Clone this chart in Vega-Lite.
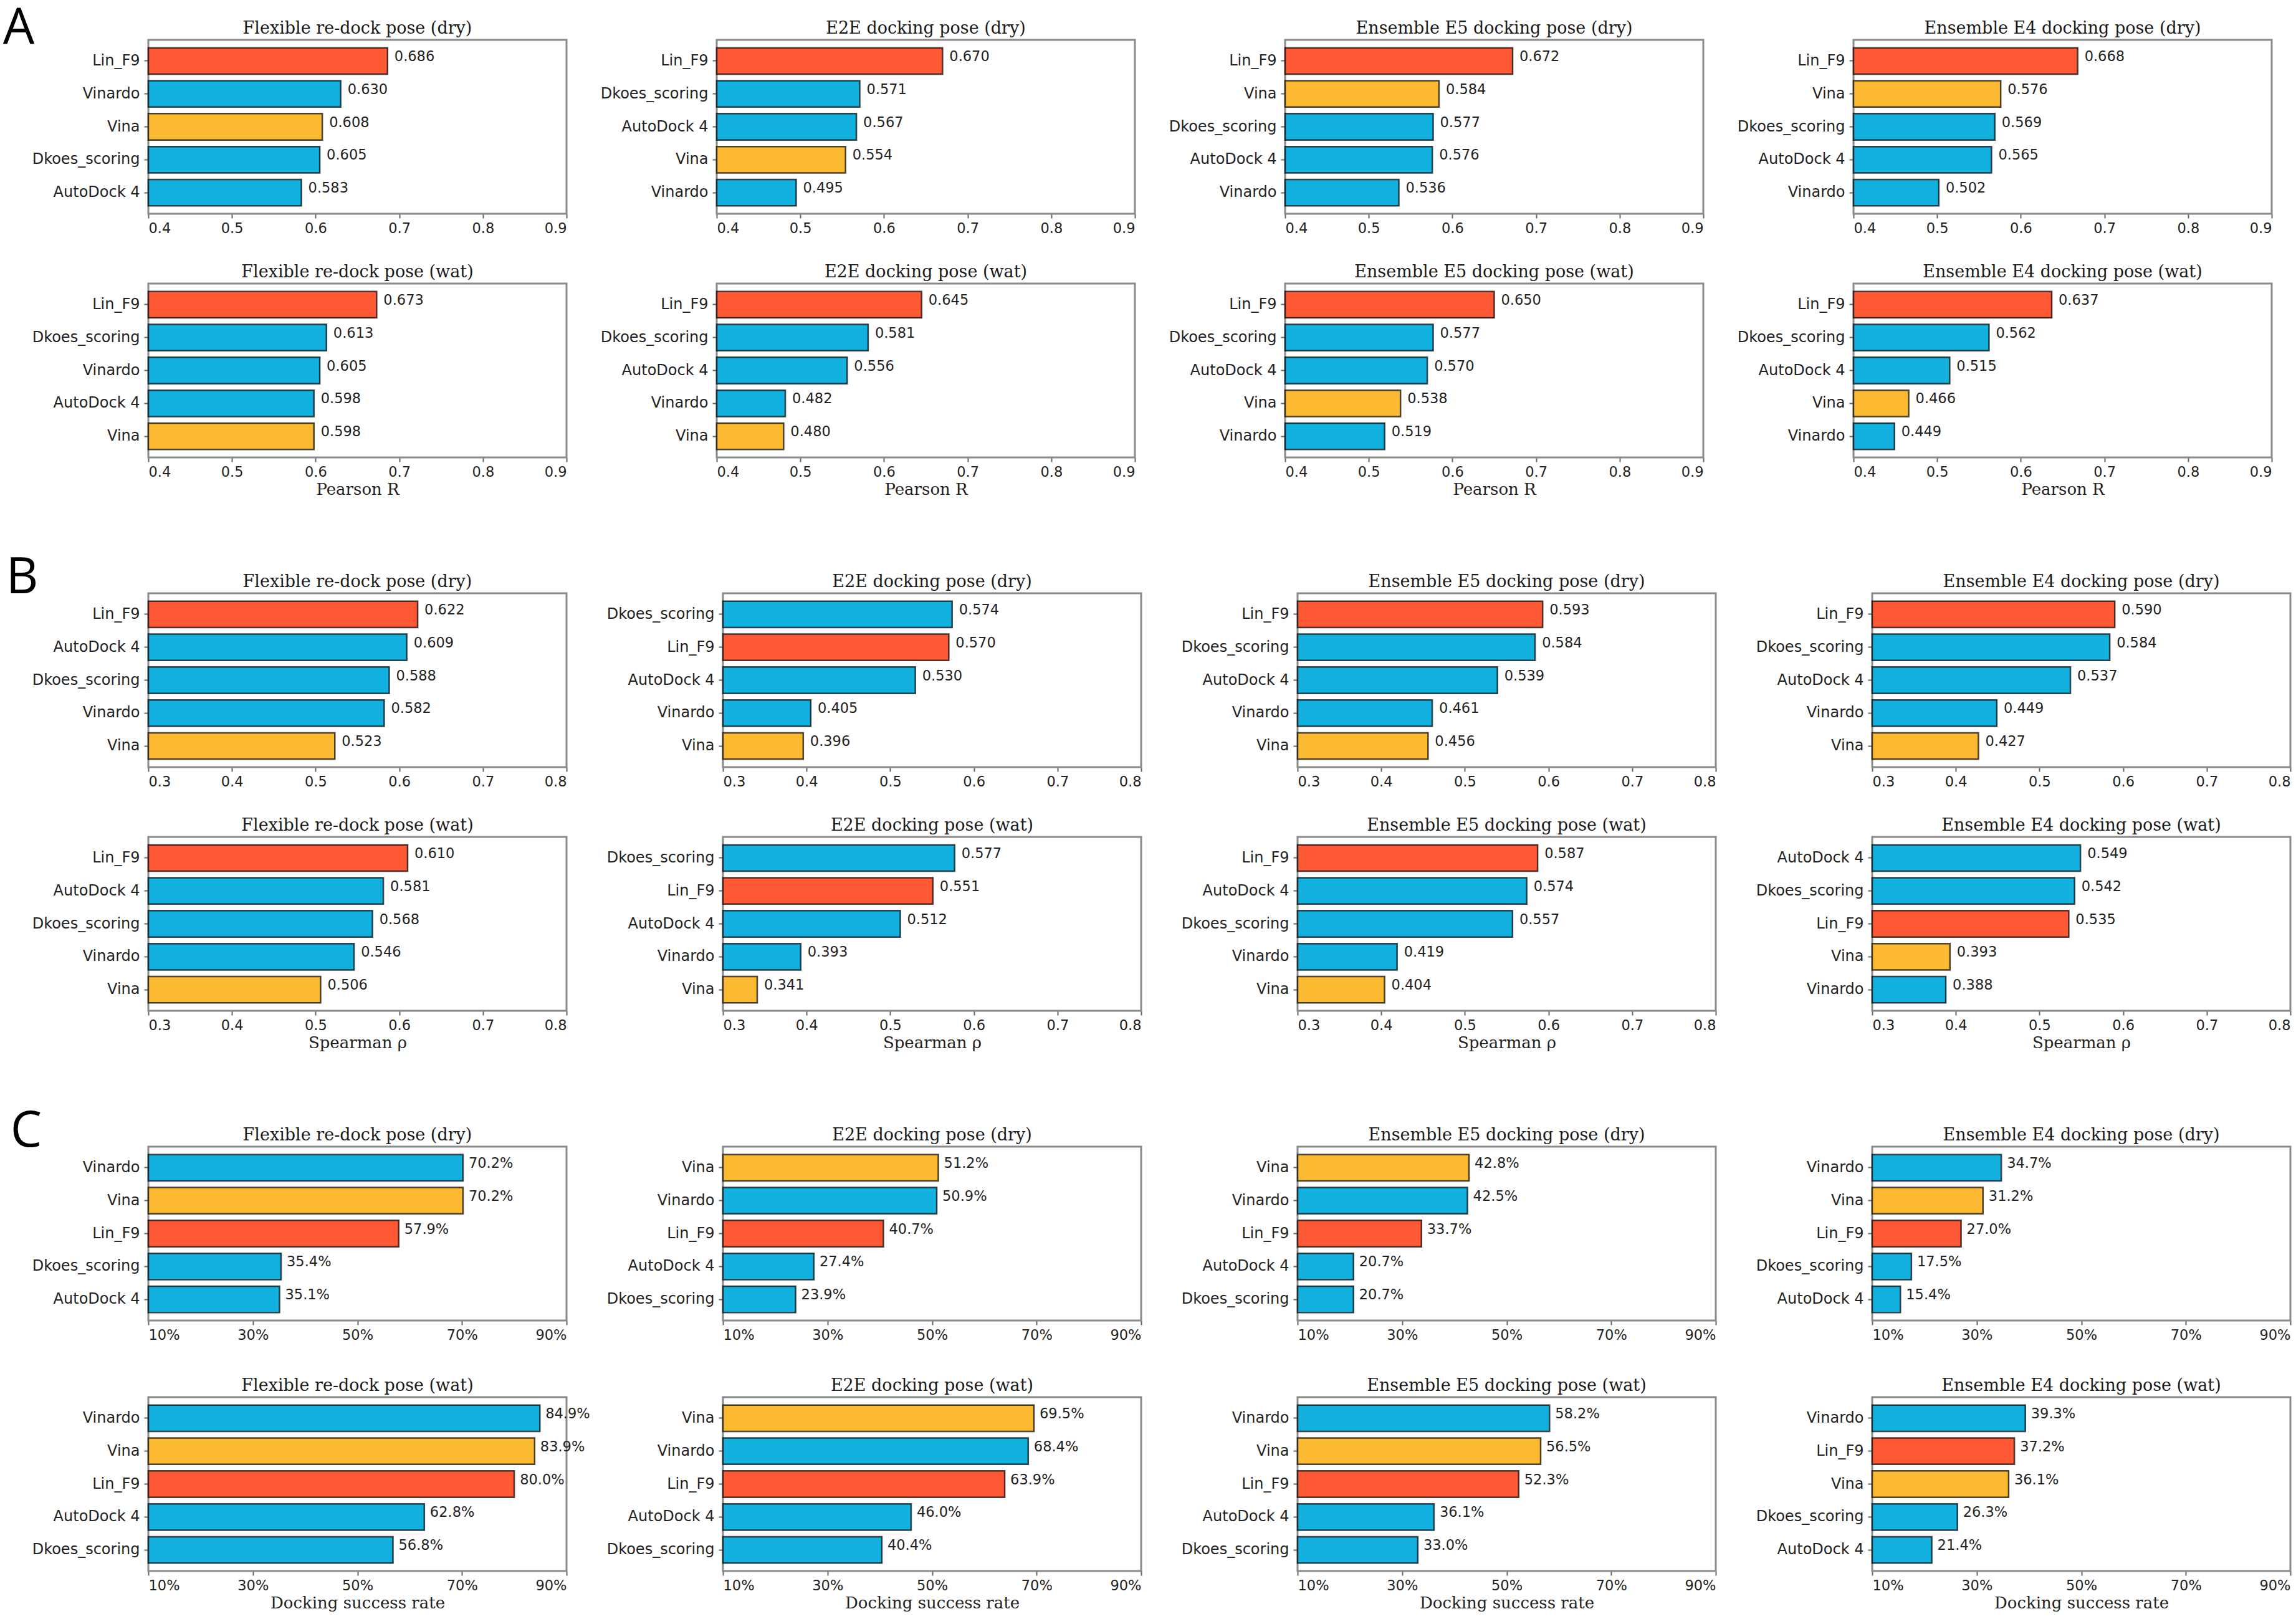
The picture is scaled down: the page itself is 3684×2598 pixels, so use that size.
{
  "$schema": "https://vega.github.io/schema/vega-lite/v6.json",
  "background": "white",
  "padding": {"left": 4, "top": 6, "right": 0, "bottom": 0},
  "spacing": 89,
  "datasets": {
    "A_dry": [
      {"panel": "Flexible re-dock pose (dry)", "method": "Lin_F9", "value": 0.686},
      {"panel": "Flexible re-dock pose (dry)", "method": "Vinardo", "value": 0.630},
      {"panel": "Flexible re-dock pose (dry)", "method": "Vina", "value": 0.608},
      {"panel": "Flexible re-dock pose (dry)", "method": "Dkoes_scoring", "value": 0.605},
      {"panel": "Flexible re-dock pose (dry)", "method": "AutoDock 4", "value": 0.583},
      {"panel": "E2E docking pose (dry)", "method": "Lin_F9", "value": 0.670},
      {"panel": "E2E docking pose (dry)", "method": "Dkoes_scoring", "value": 0.571},
      {"panel": "E2E docking pose (dry)", "method": "AutoDock 4", "value": 0.567},
      {"panel": "E2E docking pose (dry)", "method": "Vina", "value": 0.554},
      {"panel": "E2E docking pose (dry)", "method": "Vinardo", "value": 0.495},
      {"panel": "Ensemble E5 docking pose (dry)", "method": "Lin_F9", "value": 0.672},
      {"panel": "Ensemble E5 docking pose (dry)", "method": "Vina", "value": 0.584},
      {"panel": "Ensemble E5 docking pose (dry)", "method": "Dkoes_scoring", "value": 0.577},
      {"panel": "Ensemble E5 docking pose (dry)", "method": "AutoDock 4", "value": 0.576},
      {"panel": "Ensemble E5 docking pose (dry)", "method": "Vinardo", "value": 0.536},
      {"panel": "Ensemble E4 docking pose (dry)", "method": "Lin_F9", "value": 0.668},
      {"panel": "Ensemble E4 docking pose (dry)", "method": "Vina", "value": 0.576},
      {"panel": "Ensemble E4 docking pose (dry)", "method": "Dkoes_scoring", "value": 0.569},
      {"panel": "Ensemble E4 docking pose (dry)", "method": "AutoDock 4", "value": 0.565},
      {"panel": "Ensemble E4 docking pose (dry)", "method": "Vinardo", "value": 0.502}
    ],
    "A_wat": [
      {"panel": "Flexible re-dock pose (wat)", "method": "Lin_F9", "value": 0.673},
      {"panel": "Flexible re-dock pose (wat)", "method": "Dkoes_scoring", "value": 0.613},
      {"panel": "Flexible re-dock pose (wat)", "method": "Vinardo", "value": 0.605},
      {"panel": "Flexible re-dock pose (wat)", "method": "AutoDock 4", "value": 0.598},
      {"panel": "Flexible re-dock pose (wat)", "method": "Vina", "value": 0.598},
      {"panel": "E2E docking pose (wat)", "method": "Lin_F9", "value": 0.645},
      {"panel": "E2E docking pose (wat)", "method": "Dkoes_scoring", "value": 0.581},
      {"panel": "E2E docking pose (wat)", "method": "AutoDock 4", "value": 0.556},
      {"panel": "E2E docking pose (wat)", "method": "Vinardo", "value": 0.482},
      {"panel": "E2E docking pose (wat)", "method": "Vina", "value": 0.480},
      {"panel": "Ensemble E5 docking pose (wat)", "method": "Lin_F9", "value": 0.650},
      {"panel": "Ensemble E5 docking pose (wat)", "method": "Dkoes_scoring", "value": 0.577},
      {"panel": "Ensemble E5 docking pose (wat)", "method": "AutoDock 4", "value": 0.570},
      {"panel": "Ensemble E5 docking pose (wat)", "method": "Vina", "value": 0.538},
      {"panel": "Ensemble E5 docking pose (wat)", "method": "Vinardo", "value": 0.519},
      {"panel": "Ensemble E4 docking pose (wat)", "method": "Lin_F9", "value": 0.637},
      {"panel": "Ensemble E4 docking pose (wat)", "method": "Dkoes_scoring", "value": 0.562},
      {"panel": "Ensemble E4 docking pose (wat)", "method": "AutoDock 4", "value": 0.515},
      {"panel": "Ensemble E4 docking pose (wat)", "method": "Vina", "value": 0.466},
      {"panel": "Ensemble E4 docking pose (wat)", "method": "Vinardo", "value": 0.449}
    ],
    "B_dry": [
      {"panel": "Flexible re-dock pose (dry)", "method": "Lin_F9", "value": 0.622},
      {"panel": "Flexible re-dock pose (dry)", "method": "AutoDock 4", "value": 0.609},
      {"panel": "Flexible re-dock pose (dry)", "method": "Dkoes_scoring", "value": 0.588},
      {"panel": "Flexible re-dock pose (dry)", "method": "Vinardo", "value": 0.582},
      {"panel": "Flexible re-dock pose (dry)", "method": "Vina", "value": 0.523},
      {"panel": "E2E docking pose (dry)", "method": "Dkoes_scoring", "value": 0.574},
      {"panel": "E2E docking pose (dry)", "method": "Lin_F9", "value": 0.570},
      {"panel": "E2E docking pose (dry)", "method": "AutoDock 4", "value": 0.530},
      {"panel": "E2E docking pose (dry)", "method": "Vinardo", "value": 0.405},
      {"panel": "E2E docking pose (dry)", "method": "Vina", "value": 0.396},
      {"panel": "Ensemble E5 docking pose (dry)", "method": "Lin_F9", "value": 0.593},
      {"panel": "Ensemble E5 docking pose (dry)", "method": "Dkoes_scoring", "value": 0.584},
      {"panel": "Ensemble E5 docking pose (dry)", "method": "AutoDock 4", "value": 0.539},
      {"panel": "Ensemble E5 docking pose (dry)", "method": "Vinardo", "value": 0.461},
      {"panel": "Ensemble E5 docking pose (dry)", "method": "Vina", "value": 0.456},
      {"panel": "Ensemble E4 docking pose (dry)", "method": "Lin_F9", "value": 0.590},
      {"panel": "Ensemble E4 docking pose (dry)", "method": "Dkoes_scoring", "value": 0.584},
      {"panel": "Ensemble E4 docking pose (dry)", "method": "AutoDock 4", "value": 0.537},
      {"panel": "Ensemble E4 docking pose (dry)", "method": "Vinardo", "value": 0.449},
      {"panel": "Ensemble E4 docking pose (dry)", "method": "Vina", "value": 0.427}
    ],
    "B_wat": [
      {"panel": "Flexible re-dock pose (wat)", "method": "Lin_F9", "value": 0.610},
      {"panel": "Flexible re-dock pose (wat)", "method": "AutoDock 4", "value": 0.581},
      {"panel": "Flexible re-dock pose (wat)", "method": "Dkoes_scoring", "value": 0.568},
      {"panel": "Flexible re-dock pose (wat)", "method": "Vinardo", "value": 0.546},
      {"panel": "Flexible re-dock pose (wat)", "method": "Vina", "value": 0.506},
      {"panel": "E2E docking pose (wat)", "method": "Dkoes_scoring", "value": 0.577},
      {"panel": "E2E docking pose (wat)", "method": "Lin_F9", "value": 0.551},
      {"panel": "E2E docking pose (wat)", "method": "AutoDock 4", "value": 0.512},
      {"panel": "E2E docking pose (wat)", "method": "Vinardo", "value": 0.393},
      {"panel": "E2E docking pose (wat)", "method": "Vina", "value": 0.341},
      {"panel": "Ensemble E5 docking pose (wat)", "method": "Lin_F9", "value": 0.587},
      {"panel": "Ensemble E5 docking pose (wat)", "method": "AutoDock 4", "value": 0.574},
      {"panel": "Ensemble E5 docking pose (wat)", "method": "Dkoes_scoring", "value": 0.557},
      {"panel": "Ensemble E5 docking pose (wat)", "method": "Vinardo", "value": 0.419},
      {"panel": "Ensemble E5 docking pose (wat)", "method": "Vina", "value": 0.404},
      {"panel": "Ensemble E4 docking pose (wat)", "method": "AutoDock 4", "value": 0.549},
      {"panel": "Ensemble E4 docking pose (wat)", "method": "Dkoes_scoring", "value": 0.542},
      {"panel": "Ensemble E4 docking pose (wat)", "method": "Lin_F9", "value": 0.535},
      {"panel": "Ensemble E4 docking pose (wat)", "method": "Vina", "value": 0.393},
      {"panel": "Ensemble E4 docking pose (wat)", "method": "Vinardo", "value": 0.388}
    ],
    "C_dry": [
      {"panel": "Flexible re-dock pose (dry)", "method": "Vinardo", "value": 0.702},
      {"panel": "Flexible re-dock pose (dry)", "method": "Vina", "value": 0.702},
      {"panel": "Flexible re-dock pose (dry)", "method": "Lin_F9", "value": 0.579},
      {"panel": "Flexible re-dock pose (dry)", "method": "Dkoes_scoring", "value": 0.354},
      {"panel": "Flexible re-dock pose (dry)", "method": "AutoDock 4", "value": 0.351},
      {"panel": "E2E docking pose (dry)", "method": "Vina", "value": 0.512},
      {"panel": "E2E docking pose (dry)", "method": "Vinardo", "value": 0.509},
      {"panel": "E2E docking pose (dry)", "method": "Lin_F9", "value": 0.407},
      {"panel": "E2E docking pose (dry)", "method": "AutoDock 4", "value": 0.274},
      {"panel": "E2E docking pose (dry)", "method": "Dkoes_scoring", "value": 0.239},
      {"panel": "Ensemble E5 docking pose (dry)", "method": "Vina", "value": 0.428},
      {"panel": "Ensemble E5 docking pose (dry)", "method": "Vinardo", "value": 0.425},
      {"panel": "Ensemble E5 docking pose (dry)", "method": "Lin_F9", "value": 0.337},
      {"panel": "Ensemble E5 docking pose (dry)", "method": "AutoDock 4", "value": 0.207},
      {"panel": "Ensemble E5 docking pose (dry)", "method": "Dkoes_scoring", "value": 0.207},
      {"panel": "Ensemble E4 docking pose (dry)", "method": "Vinardo", "value": 0.347},
      {"panel": "Ensemble E4 docking pose (dry)", "method": "Vina", "value": 0.312},
      {"panel": "Ensemble E4 docking pose (dry)", "method": "Lin_F9", "value": 0.270},
      {"panel": "Ensemble E4 docking pose (dry)", "method": "Dkoes_scoring", "value": 0.175},
      {"panel": "Ensemble E4 docking pose (dry)", "method": "AutoDock 4", "value": 0.154}
    ],
    "C_wat": [
      {"panel": "Flexible re-dock pose (wat)", "method": "Vinardo", "value": 0.849},
      {"panel": "Flexible re-dock pose (wat)", "method": "Vina", "value": 0.839},
      {"panel": "Flexible re-dock pose (wat)", "method": "Lin_F9", "value": 0.800},
      {"panel": "Flexible re-dock pose (wat)", "method": "AutoDock 4", "value": 0.628},
      {"panel": "Flexible re-dock pose (wat)", "method": "Dkoes_scoring", "value": 0.568},
      {"panel": "E2E docking pose (wat)", "method": "Vina", "value": 0.695},
      {"panel": "E2E docking pose (wat)", "method": "Vinardo", "value": 0.684},
      {"panel": "E2E docking pose (wat)", "method": "Lin_F9", "value": 0.639},
      {"panel": "E2E docking pose (wat)", "method": "AutoDock 4", "value": 0.460},
      {"panel": "E2E docking pose (wat)", "method": "Dkoes_scoring", "value": 0.404},
      {"panel": "Ensemble E5 docking pose (wat)", "method": "Vinardo", "value": 0.582},
      {"panel": "Ensemble E5 docking pose (wat)", "method": "Vina", "value": 0.565},
      {"panel": "Ensemble E5 docking pose (wat)", "method": "Lin_F9", "value": 0.523},
      {"panel": "Ensemble E5 docking pose (wat)", "method": "AutoDock 4", "value": 0.361},
      {"panel": "Ensemble E5 docking pose (wat)", "method": "Dkoes_scoring", "value": 0.330},
      {"panel": "Ensemble E4 docking pose (wat)", "method": "Vinardo", "value": 0.393},
      {"panel": "Ensemble E4 docking pose (wat)", "method": "Lin_F9", "value": 0.372},
      {"panel": "Ensemble E4 docking pose (wat)", "method": "Vina", "value": 0.361},
      {"panel": "Ensemble E4 docking pose (wat)", "method": "Dkoes_scoring", "value": 0.263},
      {"panel": "Ensemble E4 docking pose (wat)", "method": "AutoDock 4", "value": 0.214}
    ]
  },
  "vconcat": [
    {
      "title": {"text": "A", "anchor": "start", "orient": "top", "frame": "bounds", "font": "Open Sans", "fontSize": 80, "fontWeight": "normal", "color": "#000000", "baseline": "alphabetic", "offset": 0, "dx": -45, "dy": 118},
      "spacing": 45,
      "vconcat": [
        {
          "data": {"name": "A_dry"},
          "facet": {"column": {"field": "panel", "type": "nominal", "sort": ["Flexible re-dock pose (dry)", "E2E docking pose (dry)", "Ensemble E5 docking pose (dry)", "Ensemble E4 docking pose (dry)"], "header": {"title": null}}},
          "bounds": "flush",
          "spacing": {"column": 241},
          "resolve": {"scale": {"y": "independent"}},
          "spec": {
            "width": 671, "height": 279,
            "encoding": {
              "y": {"field": "method", "type": "nominal", "sort": null, "scale": {"paddingInner": 0.2, "paddingOuter": 0.24}, "axis": {"title": null}},
              "x": {"field": "value", "type": "quantitative", "scale": {"domain": [0.4, 0.9], "zero": false, "nice": false}, "axis": {"values": [0.4, 0.5, 0.6, 0.7, 0.8, 0.9], "format": ".1f", "title": null}}
            },
            "layer": [
              {"mark": {"type": "bar", "stroke": "#000000", "strokeOpacity": 0.7, "strokeWidth": 2.5}, "encoding": {"x2": {"datum": 0.4}, "color": {"field": "method", "type": "nominal", "legend": null, "scale": {"domain": ["Lin_F9", "Vina", "Vinardo", "Dkoes_scoring", "AutoDock 4"], "range": ["#ff5a35", "#fcba33", "#12b1e0", "#12b1e0", "#12b1e0"]}}}},
              {"mark": {"type": "text", "align": "left", "baseline": "middle", "dx": 11, "dy": -7, "font": "DejaVu Sans", "fontSize": 22.5, "color": "#222222"}, "encoding": {"text": {"field": "value", "type": "quantitative", "format": ".3f"}}}
            ]
          }
        },
        {
          "data": {"name": "A_wat"},
          "facet": {"column": {"field": "panel", "type": "nominal", "sort": ["Flexible re-dock pose (wat)", "E2E docking pose (wat)", "Ensemble E5 docking pose (wat)", "Ensemble E4 docking pose (wat)"], "header": {"title": null}}},
          "bounds": "flush",
          "spacing": {"column": 241},
          "resolve": {"scale": {"y": "independent"}},
          "spec": {
            "width": 671, "height": 279,
            "encoding": {
              "y": {"field": "method", "type": "nominal", "sort": null, "scale": {"paddingInner": 0.2, "paddingOuter": 0.24}, "axis": {"title": null}},
              "x": {"field": "value", "type": "quantitative", "scale": {"domain": [0.4, 0.9], "zero": false, "nice": false}, "axis": {"values": [0.4, 0.5, 0.6, 0.7, 0.8, 0.9], "format": ".1f", "title": "Pearson R"}}
            },
            "layer": [
              {"mark": {"type": "bar", "stroke": "#000000", "strokeOpacity": 0.7, "strokeWidth": 2.5}, "encoding": {"x2": {"datum": 0.4}, "color": {"field": "method", "type": "nominal", "legend": null, "scale": {"domain": ["Lin_F9", "Vina", "Vinardo", "Dkoes_scoring", "AutoDock 4"], "range": ["#ff5a35", "#fcba33", "#12b1e0", "#12b1e0", "#12b1e0"]}}}},
              {"mark": {"type": "text", "align": "left", "baseline": "middle", "dx": 11, "dy": -7, "font": "DejaVu Sans", "fontSize": 22.5, "color": "#222222"}, "encoding": {"text": {"field": "value", "type": "quantitative", "format": ".3f"}}}
            ]
          }
        }
      ]
    },
    {
      "title": {"text": "B", "anchor": "start", "orient": "top", "frame": "bounds", "font": "Open Sans", "fontSize": 80, "fontWeight": "normal", "color": "#000000", "baseline": "alphabetic", "offset": 0, "dx": -40, "dy": 112},
      "spacing": 45,
      "vconcat": [
        {
          "data": {"name": "B_dry"},
          "facet": {"column": {"field": "panel", "type": "nominal", "sort": ["Flexible re-dock pose (dry)", "E2E docking pose (dry)", "Ensemble E5 docking pose (dry)", "Ensemble E4 docking pose (dry)"], "header": {"title": null}}},
          "bounds": "flush",
          "spacing": {"column": 251},
          "resolve": {"scale": {"y": "independent"}},
          "spec": {
            "width": 671, "height": 279,
            "encoding": {
              "y": {"field": "method", "type": "nominal", "sort": null, "scale": {"paddingInner": 0.2, "paddingOuter": 0.24}, "axis": {"title": null}},
              "x": {"field": "value", "type": "quantitative", "scale": {"domain": [0.3, 0.8], "zero": false, "nice": false}, "axis": {"values": [0.3, 0.4, 0.5, 0.6, 0.7, 0.8], "format": ".1f", "title": null}}
            },
            "layer": [
              {"mark": {"type": "bar", "stroke": "#000000", "strokeOpacity": 0.7, "strokeWidth": 2.5}, "encoding": {"x2": {"datum": 0.3}, "color": {"field": "method", "type": "nominal", "legend": null, "scale": {"domain": ["Lin_F9", "Vina", "Vinardo", "Dkoes_scoring", "AutoDock 4"], "range": ["#ff5a35", "#fcba33", "#12b1e0", "#12b1e0", "#12b1e0"]}}}},
              {"mark": {"type": "text", "align": "left", "baseline": "middle", "dx": 11, "dy": -7, "font": "DejaVu Sans", "fontSize": 22.5, "color": "#222222"}, "encoding": {"text": {"field": "value", "type": "quantitative", "format": ".3f"}}}
            ]
          }
        },
        {
          "data": {"name": "B_wat"},
          "facet": {"column": {"field": "panel", "type": "nominal", "sort": ["Flexible re-dock pose (wat)", "E2E docking pose (wat)", "Ensemble E5 docking pose (wat)", "Ensemble E4 docking pose (wat)"], "header": {"title": null}}},
          "bounds": "flush",
          "spacing": {"column": 251},
          "resolve": {"scale": {"y": "independent"}},
          "spec": {
            "width": 671, "height": 279,
            "encoding": {
              "y": {"field": "method", "type": "nominal", "sort": null, "scale": {"paddingInner": 0.2, "paddingOuter": 0.24}, "axis": {"title": null}},
              "x": {"field": "value", "type": "quantitative", "scale": {"domain": [0.3, 0.8], "zero": false, "nice": false}, "axis": {"values": [0.3, 0.4, 0.5, 0.6, 0.7, 0.8], "format": ".1f", "title": "Spearman ρ"}}
            },
            "layer": [
              {"mark": {"type": "bar", "stroke": "#000000", "strokeOpacity": 0.7, "strokeWidth": 2.5}, "encoding": {"x2": {"datum": 0.3}, "color": {"field": "method", "type": "nominal", "legend": null, "scale": {"domain": ["Lin_F9", "Vina", "Vinardo", "Dkoes_scoring", "AutoDock 4"], "range": ["#ff5a35", "#fcba33", "#12b1e0", "#12b1e0", "#12b1e0"]}}}},
              {"mark": {"type": "text", "align": "left", "baseline": "middle", "dx": 11, "dy": -7, "font": "DejaVu Sans", "fontSize": 22.5, "color": "#222222"}, "encoding": {"text": {"field": "value", "type": "quantitative", "format": ".3f"}}}
            ]
          }
        }
      ]
    },
    {
      "title": {"text": "C", "anchor": "start", "orient": "top", "frame": "bounds", "font": "Open Sans", "fontSize": 80, "fontWeight": "normal", "color": "#000000", "baseline": "alphabetic", "offset": 0, "dx": -33, "dy": 112},
      "spacing": 56,
      "vconcat": [
        {
          "data": {"name": "C_dry"},
          "facet": {"column": {"field": "panel", "type": "nominal", "sort": ["Flexible re-dock pose (dry)", "E2E docking pose (dry)", "Ensemble E5 docking pose (dry)", "Ensemble E4 docking pose (dry)"], "header": {"title": null}}},
          "bounds": "flush",
          "spacing": {"column": 251},
          "resolve": {"scale": {"y": "independent"}},
          "spec": {
            "width": 671, "height": 279,
            "encoding": {
              "y": {"field": "method", "type": "nominal", "sort": null, "scale": {"paddingInner": 0.2, "paddingOuter": 0.24}, "axis": {"title": null}},
              "x": {"field": "value", "type": "quantitative", "scale": {"domain": [0.1, 0.9], "zero": false, "nice": false}, "axis": {"values": [0.1, 0.3, 0.5, 0.7, 0.9], "format": ".0%", "title": null}}
            },
            "layer": [
              {"mark": {"type": "bar", "stroke": "#000000", "strokeOpacity": 0.7, "strokeWidth": 2.5}, "encoding": {"x2": {"datum": 0.1}, "color": {"field": "method", "type": "nominal", "legend": null, "scale": {"domain": ["Lin_F9", "Vina", "Vinardo", "Dkoes_scoring", "AutoDock 4"], "range": ["#ff5a35", "#fcba33", "#12b1e0", "#12b1e0", "#12b1e0"]}}}},
              {"mark": {"type": "text", "align": "left", "baseline": "middle", "dx": 9, "dy": -7, "font": "DejaVu Sans", "fontSize": 22.5, "color": "#222222"}, "encoding": {"text": {"field": "value", "type": "quantitative", "format": ".1%"}}}
            ]
          }
        },
        {
          "data": {"name": "C_wat"},
          "facet": {"column": {"field": "panel", "type": "nominal", "sort": ["Flexible re-dock pose (wat)", "E2E docking pose (wat)", "Ensemble E5 docking pose (wat)", "Ensemble E4 docking pose (wat)"], "header": {"title": null}}},
          "bounds": "flush",
          "spacing": {"column": 251},
          "resolve": {"scale": {"y": "independent"}},
          "spec": {
            "width": 671, "height": 279,
            "encoding": {
              "y": {"field": "method", "type": "nominal", "sort": null, "scale": {"paddingInner": 0.2, "paddingOuter": 0.24}, "axis": {"title": null}},
              "x": {"field": "value", "type": "quantitative", "scale": {"domain": [0.1, 0.9], "zero": false, "nice": false}, "axis": {"values": [0.1, 0.3, 0.5, 0.7, 0.9], "format": ".0%", "title": "Docking success rate"}}
            },
            "layer": [
              {"mark": {"type": "bar", "stroke": "#000000", "strokeOpacity": 0.7, "strokeWidth": 2.5}, "encoding": {"x2": {"datum": 0.1}, "color": {"field": "method", "type": "nominal", "legend": null, "scale": {"domain": ["Lin_F9", "Vina", "Vinardo", "Dkoes_scoring", "AutoDock 4"], "range": ["#ff5a35", "#fcba33", "#12b1e0", "#12b1e0", "#12b1e0"]}}}},
              {"mark": {"type": "text", "align": "left", "baseline": "middle", "dx": 9, "dy": -7, "font": "DejaVu Sans", "fontSize": 22.5, "color": "#222222"}, "encoding": {"text": {"field": "value", "type": "quantitative", "format": ".1%"}}}
            ]
          }
        }
      ]
    }
  ],
  "config": {
    "view": {"stroke": "#8a8a8a", "strokeWidth": 3},
    "axis": {"domain": false, "grid": false, "tickColor": "#666666", "tickSize": 7, "tickWidth": 2, "labelFont": "DejaVu Sans", "labelColor": "#222222", "titleFont": "DejaVu Serif", "titleFontWeight": "normal", "titleFontSize": 26, "titleColor": "#222222"},
    "axisX": {"labelFontSize": 22.5, "labelPadding": 5, "titlePadding": 4},
    "axisY": {"labelFontSize": 24, "labelPadding": 7, "labelLimit": 400},
    "header": {"labelFont": "DejaVu Serif", "labelFontSize": 27, "labelColor": "#1a1a1a", "labelPadding": 4}
  }
}
